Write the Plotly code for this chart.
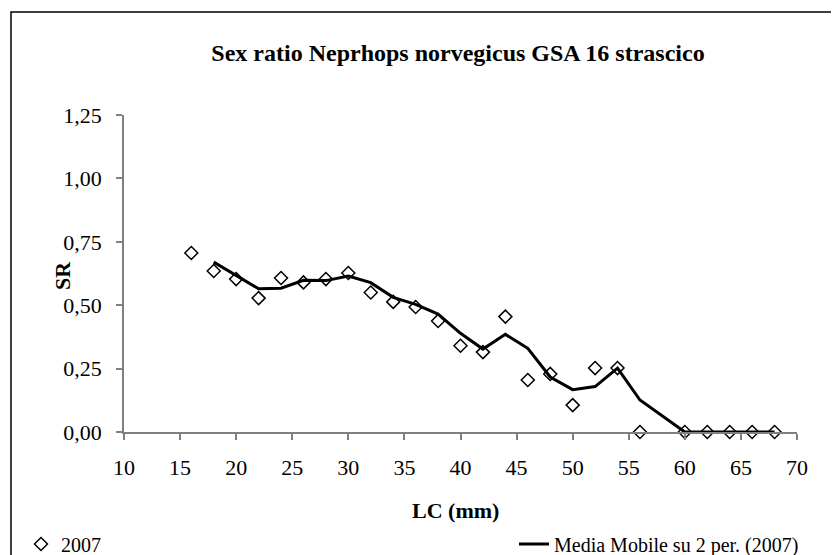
import plotly.graph_objects as go

# lunghezza carapace (mm) e sex ratio osservata
lc = [16, 18, 20, 22, 24, 26, 28, 30, 32, 34, 36, 38, 40, 42, 44, 46, 48, 50, 52, 54, 56, 60, 62, 64, 66, 68]
sr = [0.706, 0.635, 0.603, 0.528, 0.607, 0.590, 0.603, 0.627, 0.550, 0.513, 0.493, 0.438, 0.340, 0.315,
      0.455, 0.205, 0.229, 0.106, 0.252, 0.252, 0.0, 0.0, 0.0, 0.0, 0.0, 0.0]

# media mobile su 2 periodi
lc_mm = [18, 20, 22, 24, 26, 28, 30, 32, 34, 36, 38, 40, 42, 44, 46, 48, 50, 52, 54, 56, 60, 62, 64, 66, 68]
sr_mm = [0.670, 0.619, 0.565, 0.567, 0.598, 0.597, 0.615, 0.589, 0.531, 0.503, 0.465, 0.389, 0.327,
         0.385, 0.330, 0.217, 0.167, 0.179, 0.252, 0.126, 0.0, 0.0, 0.0, 0.0, 0.0]

serif = "Liberation Serif, Times New Roman, serif"

# la pagina html ha 8px di margine sul body: figura un po' più piccola
OFF = 8
W, H = 839 - OFF, 555 - OFF
L, R, T, B = 124 - OFF, 42, 115 - OFF, 123
pw, ph = W - L - R, H - T - B


def px_x(x):  # pixel della pagina -> coordinate paper
    return (x - OFF - L) / pw


def px_y(y):
    return (H - B - (y - OFF)) / ph


fig = go.Figure()
fig.add_trace(go.Scatter(x=lc, y=sr, mode="markers", name="2007", legend="legend",
                         marker=dict(symbol="diamond-open", size=10, color="black",
                                     line=dict(color="black", width=1.5)),
                         cliponaxis=False))
fig.add_trace(go.Scatter(x=lc_mm, y=sr_mm, mode="lines", name="Media Mobile su 2 per. (2007)",
                         legend="legend2", line=dict(color="black", width=3), cliponaxis=False))

# cornice esterna del grafico
fig.add_shape(type="rect", xref="paper", yref="paper",
              x0=px_x(11), x1=px_x(850), y0=px_y(570), y1=px_y(12),
              line=dict(color="black", width=1.5), fillcolor="rgba(0,0,0,0)", layer="below")

# titoli degli assi
fig.add_annotation(text="<b>LC (mm)</b>", xref="paper", yref="paper", x=px_x(455), y=px_y(510),
                   xanchor="center", yanchor="middle", showarrow=False,
                   font=dict(family=serif, size=22, color="black"))
fig.add_annotation(text="<b>SR</b>", xref="paper", yref="paper", x=px_x(62), y=px_y(275),
                   xanchor="center", yanchor="middle", showarrow=False, textangle=-90,
                   font=dict(family=serif, size=22, color="black"))

fig.update_layout(
    width=W, height=H,
    margin=dict(l=L, r=R, t=T, b=B, autoexpand=False),
    paper_bgcolor="white", plot_bgcolor="white",
    separators=", ",
    font=dict(family=serif, size=22, color="black"),
    title=dict(text="<b>Sex ratio Neprhops norvegicus GSA 16 strascico</b>",
               x=(458 - OFF) / W, xanchor="center", y=1 - (53 - OFF) / H, yanchor="middle",
               font=dict(family=serif, size=24, color="black")),
    xaxis=dict(range=[10, 70], tickmode="linear", tick0=10, dtick=5, automargin=False,
               showgrid=False, zeroline=False, showline=True, linecolor="#808080", linewidth=1.5,
               ticks="outside", ticklen=6, tickcolor="#808080", tickwidth=1.5,
               ticklabelstandoff=9),
    yaxis=dict(range=[0, 1.25], tickmode="linear", tick0=0, dtick=0.25, tickformat=".2f", automargin=False,
               showgrid=False, zeroline=False, showline=True, linecolor="#808080", linewidth=1.5,
               ticks="outside", ticklen=6, tickcolor="#808080", tickwidth=1.5,
               ticklabelstandoff=10),
    legend=dict(orientation="h", xref="container", yref="container",
                x=(21 - OFF) / W, xanchor="left", y=(H - (544 - OFF)) / H, yanchor="middle",
                bgcolor="rgba(0,0,0,0)", font=dict(family=serif, size=20, color="black")),
    legend2=dict(orientation="h", xref="container", yref="container",
                 x=(514 - OFF) / W, xanchor="left", y=(H - (544 - OFF)) / H, yanchor="middle",
                 bgcolor="rgba(0,0,0,0)", font=dict(family=serif, size=20, color="black")),
    showlegend=True,
)

fig.write_html("out.html")
